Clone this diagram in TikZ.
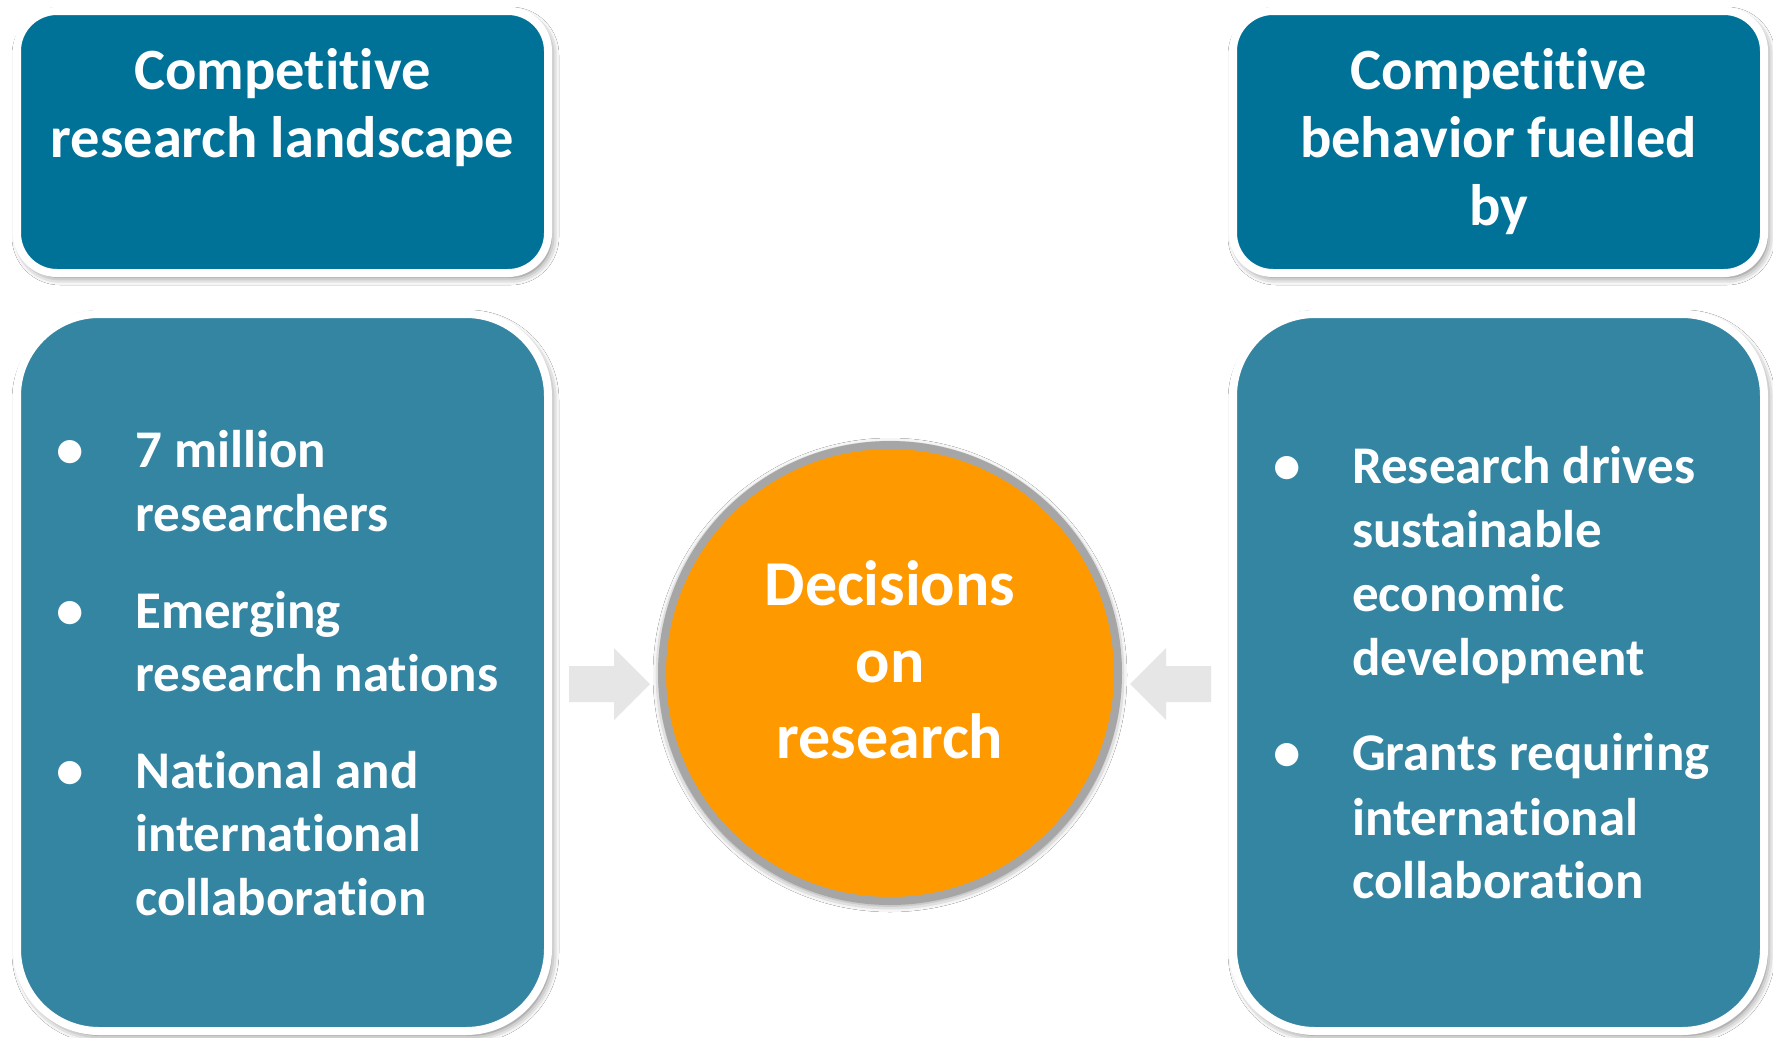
\documentclass[tikz,border=0pt]{standalone}
\usepackage{fontspec}
\setmainfont{Carlito}[Ligatures=NoCommon]
\usetikzlibrary{shadows.blur}
\definecolor{topblue}{RGB}{0,114,152}
\definecolor{botblue}{RGB}{51,133,162}
\definecolor{orng}{RGB}{255,153,0}
\definecolor{ringgray}{RGB}{166,166,166}
\definecolor{arrowgray}{RGB}{230,230,230}
\tikzset{
 card/.style={rectangle, draw=white, line width=8pt, inner sep=0pt,
   blur shadow={shadow xshift=3pt, shadow yshift=-4pt, shadow blur radius=8pt, shadow opacity=60}},
 titlebox/.style={card, fill=topblue, rounded corners=40pt, minimum width=531pt, minimum height=262pt},
 listbox/.style={card, fill=botblue, rounded corners=82pt, minimum width=531pt, minimum height=717pt},
 titletext/.style={anchor=base, text=white, font=\bfseries\fontsize{58.5}{68}\selectfont, inner sep=0pt},
 bullettext/.style={anchor=base west, text=white, font=\bfseries\fontsize{53}{64}\selectfont, inner sep=0pt},
 bulletdot/.style={anchor=base, text=white, font=\bfseries\fontsize{55}{64}\selectfont, inner sep=0pt},
 circtext/.style={anchor=base, text=white, font=\bfseries\fontsize{64}{76}\selectfont, inner sep=0pt},
 decision/.style={circle, minimum size=456pt, inner sep=0pt, fill=orng, draw=ringgray, line width=8pt,
   blur shadow={shadow xshift=0pt, shadow yshift=-2pt, shadow blur radius=9pt, shadow opacity=65}},
 blockarrow/.style={fill=arrowgray, draw=none},
}
\begin{document}
\begin{tikzpicture}[x=1pt,y=-1pt]
\useasboundingbox (0,0) rectangle (1773,1037);
\fill[white] (0,0) rectangle (1773,1037);
% boxes
\node[titlebox] (tl) at (282.5,142) {};
\node[listbox] (bl) at (282.5,672.5) {};
\node[titlebox] (tr) at (1498.5,142) {};
\node[listbox] (br) at (1498.5,672.5) {};
% central circle
\node[decision] (dec) at (890,673) {};
% block arrows
\coordinate (la) at (569,684);
\coordinate (ra) at (1211,684);
\fill[blockarrow] (la) ++(0,-18) -- ++(45,0) -- ++(0,-18) -- (650,684) -- (614,720) -- ++(0,-18) -- ++(-45,0) -- cycle;
\fill[blockarrow] (ra) ++(0,-18) -- ++(-45,0) -- ++(0,-18) -- (1130,684) -- (1166,720) -- ++(0,-18) -- ++(45,0) -- cycle;
% titles
\node[titletext] (tl1) at (282.5,89) {Competitive};
\node[titletext] (tl2) at (282.5,157) {research landscape};
\node[titletext] (tr1) at (1498.5,89) {Competitive};
\node[titletext] (tr2) at (1498.5,157) {behavior fuelled};
\node[titletext] (tr3) at (1498.5,225) {by};
% circle text
\node[circtext] (d1) at (890,605) {Decisions};
\node[circtext] (d2) at (890,682) {on};
\node[circtext] (d3) at (890,758) {research};
% left bullets
\node[bulletdot] (lb1) at (70,467) {•};
\node[bulletdot] (lb2) at (70,628) {•};
\node[bulletdot] (lb3) at (70,788) {•};
\node[bullettext] (l1) at (135,467) {7 million};
\node[bullettext] (l2) at (135,531) {researchers};
\node[bullettext] (l3) at (135,628) {Emerging};
\node[bullettext] (l4) at (135,691) {research nations};
\node[bullettext] (l5) at (135,788) {National and};
\node[bullettext] (l6) at (135,851) {international};
\node[bullettext] (l7) at (135,915) {collaboration};
% right bullets
\node[bulletdot] (rb1) at (1287,483) {•};
\node[bulletdot] (rb2) at (1287,770) {•};
\node[bullettext] (r1) at (1352,483) {Research drives};
\node[bullettext] (r2) at (1352,547) {sustainable};
\node[bullettext] (r3) at (1352,611) {economic};
\node[bullettext] (r4) at (1352,675) {development};
\node[bullettext] (r5) at (1352,770) {Grants requiring};
\node[bullettext] (r6) at (1352,835) {international};
\node[bullettext] (r7) at (1352,898) {collaboration};
\end{tikzpicture}
\end{document}
